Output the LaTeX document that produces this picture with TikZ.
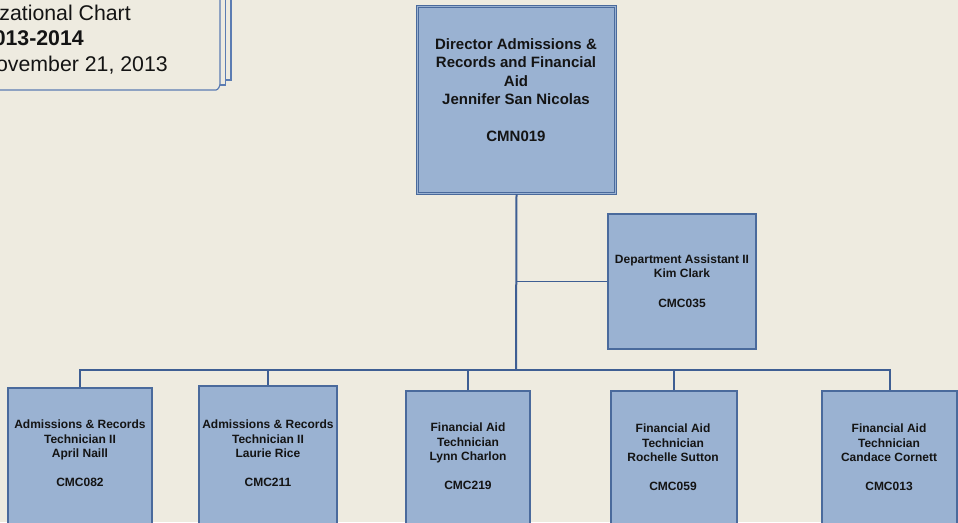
\documentclass[tikz,border=0pt]{standalone}
\usepackage{fontspec}
\setmainfont{Liberation Sans}
\definecolor{bg}{HTML}{EEEBE0}
\definecolor{boxfill}{HTML}{9AB2D2}
\definecolor{boxborder}{HTML}{4A6A9C}
\definecolor{linec}{HTML}{3E5E93}
\definecolor{txt}{HTML}{141414}
\definecolor{titleline}{HTML}{5B7CB2}
\tikzset{
  box/.style={draw=boxborder, fill=boxfill, line width=1.2pt, inner sep=0pt},
  dirbox/.style={draw=boxborder, double=boxfill, double distance=1.6pt, line width=1.1pt, fill=boxfill, inner sep=0pt},
  conn/.style={draw=linec, line width=2pt},
  thinconn/.style={draw=linec, line width=1.2pt},
  lbl/.style={align=center, font=\bfseries\fontsize{12}{14.6}\selectfont, text=txt, inner sep=0pt},
  dirlbl/.style={align=center, font=\bfseries\fontsize{15}{18.4}\selectfont, text=txt, inner sep=0pt},
  titletxt/.style={font=\fontsize{21.3}{25}\selectfont, text=txt, inner sep=0pt, anchor=base east},
  titlebox/.style={draw=titleline, fill=bg, line width=1.2pt},
}
\begin{document}
\begin{tikzpicture}[x=1pt, y=-1pt]
\useasboundingbox (0,0) rectangle (958,522);
\clip (0,0) rectangle (958,522);
\fill[bg] (0,0) rectangle (958,522);

% title box (stacked pages)
\path[titlebox] (-20,-20) rectangle (231,80);
\path[titlebox] (-20,-20) rectangle (225.5,85);
\path[titlebox] (-20,-20) -- (220,-20) -- (220,84) .. controls (220,86) and (218,90) .. (216,90) -- (-20,90) -- cycle;
\node[titletxt] (t1) at (131,20) {Organizational Chart};
\node[titletxt, font=\bfseries\fontsize{21.3}{25}\selectfont] (t2) at (84,45.5) {2013-2014};
\node[titletxt] (t3) at (168,71) {November 21, 2013};

% boxes
\node[dirbox, minimum width=198pt, minimum height=187pt] (dir) at (516.5,100) {};
\node[box, minimum width=148pt, minimum height=135pt] (dept) at (682,281.5) {};
\node[box, minimum width=144pt, minimum height=142pt] (b1) at (80,459) {};
\node[box, minimum width=138pt, minimum height=144pt] (b2) at (268,458) {};
\node[box, minimum width=124pt, minimum height=139pt] (b3) at (468,460.5) {};
\node[box, minimum width=126pt, minimum height=139pt] (b4) at (674,460.5) {};
\node[box, minimum width=135pt, minimum height=139pt] (b5) at (889.5,460.5) {};

% labels
\node[dirlbl] (ldir) at (516,90) {Director Admissions \&\\Records and Financial\\Aid\\Jennifer San Nicolas\\[18.4pt]CMN019};
\node[lbl] (ldept) at (682,281) {Department Assistant II\\Kim Clark\\[14.6pt]CMC035};
\node[lbl] (l1) at (80,453.5) {Admissions \& Records\\Technician II\\April Naill\\[14.6pt]CMC082};
\node[lbl] (l2) at (268,453.5) {Admissions \& Records\\Technician II\\Laurie Rice\\[14.6pt]CMC211};
\node[lbl] (l3) at (468,456.5) {Financial Aid\\Technician\\Lynn Charlon\\[14.6pt]CMC219};
\node[lbl] (l4) at (673,457.5) {Financial Aid\\Technician\\Rochelle Sutton\\[14.6pt]CMC059};
\node[lbl] (l5) at (889,457.5) {Financial Aid\\Technician\\Candace Cornett\\[14.6pt]CMC013};

% connectors
\coordinate (bus) at (516,370);
\draw[thinconn] (dept.west -| dir.south) -- (dept.west);
\draw[conn] (dir.south) -- (bus);
\draw[conn] (b1.north) |- (bus) -| (b5.north);
\draw[conn] (b2.north) -- (b2.north |- bus);
\draw[conn] (b3.north) -- (b3.north |- bus);
\draw[conn] (b4.north) -- (b4.north |- bus);
\end{tikzpicture}
\end{document}
